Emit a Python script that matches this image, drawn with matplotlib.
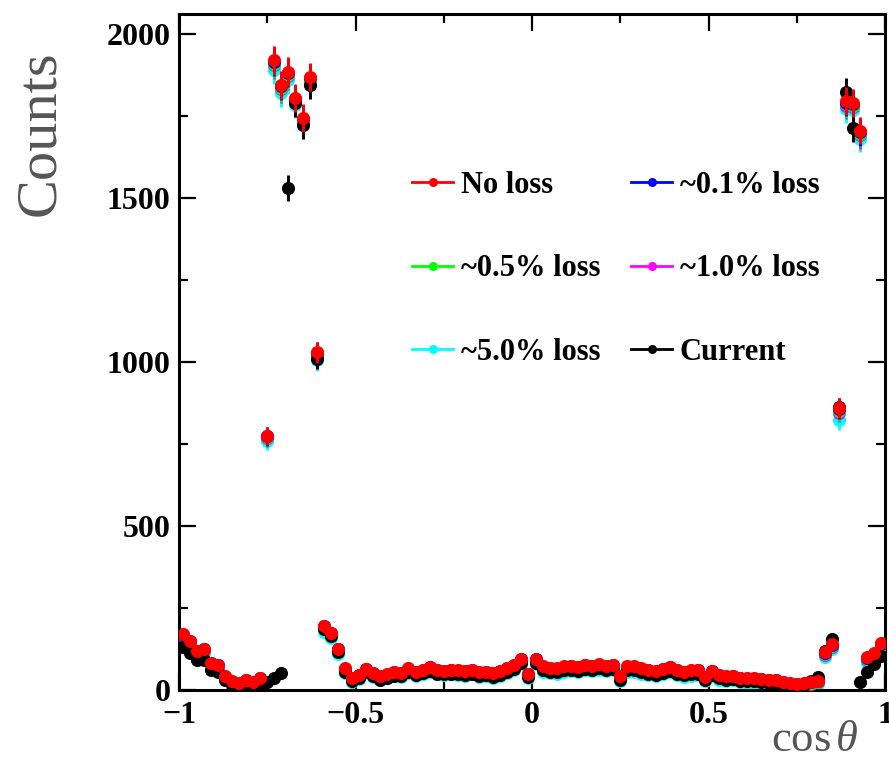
import numpy as np
import matplotlib
matplotlib.use("Agg")
import matplotlib.pyplot as plt
from matplotlib.lines import Line2D
from matplotlib.ticker import MultipleLocator, FixedLocator

plt.rcParams['font.family'] = ['Liberation Serif', 'DejaVu Serif']
plt.rcParams['mathtext.fontset'] = 'custom'
plt.rcParams['mathtext.rm'] = 'Liberation Serif'
plt.rcParams['mathtext.it'] = 'Liberation Serif:italic'

# bin centres of cos(theta), 100 bins in [-1, 1]
bin_edges = np.linspace(-1, 1, 101)
centers = 0.5 * (bin_edges[:-1] + bin_edges[1:])

no_loss = [
    170, 150, 118, 125, 82, 76, 42, 26, 22, 30,
    25, 38, 775, 1920, 1845, 1885, 1805, 1744, 1869, 1030,
    195, 175, 125, 66, 37, 47, 65, 52, 42, 48,
    55, 52, 66, 55, 62, 70, 62, 58, 62, 60,
    58, 62, 54, 56, 52, 58, 68, 76, 95, 50,
    95, 72, 68, 66, 72, 74, 70, 76, 74, 78,
    74, 76, 42, 72, 72, 66, 62, 58, 64, 70,
    62, 56, 60, 62, 40, 58, 46, 42, 44, 38,
    36, 36, 34, 32, 30, 24, 20, 18, 20, 24,
    28, 115, 140, 860, 1795, 1790, 1705, 100, 112, 142,
]
loss_01 = [
    169, 149, 117, 124, 81, 75, 41, 25, 21, 29,
    24, 37, 773, 1916, 1841, 1881, 1801, 1741, 1865, 1028,
    194, 174, 124, 65, 36, 46, 64, 51, 41, 47,
    54, 51, 65, 54, 61, 69, 61, 57, 61, 59,
    57, 61, 53, 55, 51, 57, 67, 75, 94, 49,
    94, 71, 67, 65, 71, 73, 69, 75, 73, 77,
    73, 75, 41, 71, 71, 65, 61, 57, 63, 69,
    61, 55, 59, 61, 39, 57, 45, 41, 43, 37,
    35, 35, 33, 31, 29, 23, 19, 17, 19, 23,
    27, 113, 138, 857, 1791, 1786, 1701, 98, 110, 140,
]
loss_05 = [
    167, 147, 115, 122, 79, 73, 39, 23, 19, 27,
    22, 35, 770, 1910, 1836, 1876, 1797, 1737, 1860, 1024,
    192, 172, 122, 63, 34, 44, 62, 49, 39, 45,
    52, 49, 63, 52, 59, 67, 59, 55, 59, 57,
    55, 59, 51, 53, 49, 55, 65, 73, 92, 47,
    92, 69, 65, 63, 69, 71, 67, 73, 71, 75,
    71, 73, 39, 69, 69, 63, 59, 55, 61, 67,
    59, 53, 57, 59, 37, 55, 43, 39, 41, 35,
    33, 33, 31, 29, 27, 21, 17, 15, 17, 21,
    25, 110, 135, 850, 1786, 1781, 1696, 95, 106, 136,
]
loss_10 = [
    164, 145, 113, 120, 77, 71, 37, 21, 17, 25,
    20, 33, 768, 1905, 1832, 1872, 1794, 1734, 1856, 1020,
    189, 169, 120, 61, 32, 42, 60, 47, 37, 43,
    50, 47, 61, 50, 57, 65, 57, 53, 57, 55,
    53, 57, 49, 51, 47, 53, 63, 71, 90, 45,
    90, 67, 63, 61, 67, 69, 65, 71, 69, 73,
    69, 71, 37, 67, 67, 61, 57, 53, 59, 65,
    57, 51, 55, 57, 35, 53, 41, 37, 39, 33,
    31, 31, 29, 27, 25, 19, 15, 13, 15, 19,
    23, 107, 132, 845, 1782, 1778, 1692, 92, 102, 132,
]
loss_50 = [
    155, 138, 105, 112, 70, 64, 32, 16, 12, 18,
    14, 28, 760, 1890, 1820, 1860, 1785, 1722, 1845, 1005,
    178, 158, 110, 52, 25, 35, 52, 40, 30, 36,
    42, 40, 52, 42, 50, 56, 48, 45, 48, 46,
    44, 48, 40, 42, 38, 44, 52, 60, 78, 36,
    78, 56, 52, 50, 56, 58, 54, 60, 58, 62,
    58, 60, 28, 55, 56, 50, 46, 42, 48, 54,
    46, 40, 44, 46, 26, 42, 32, 28, 30, 24,
    22, 22, 20, 18, 16, 10, 8, 6, 8, 14,
    18, 100, 125, 822, 1772, 1768, 1680, 82, 90, 120,
]
current = [
    130, 112, 92, 90, 62, 56, 30, 16, 10, 8,
    10, 14, 24, 38, 52, 1530, 1790, 1722, 1845, 1010,
    185, 165, 115, 56, 28, 36, 55, 42, 32, 38,
    44, 42, 55, 45, 52, 58, 50, 48, 50, 48,
    46, 50, 42, 45, 40, 46, 55, 64, 82, 40,
    82, 60, 56, 55, 60, 62, 58, 64, 62, 66,
    62, 64, 32, 60, 60, 55, 50, 46, 52, 58,
    50, 45, 48, 50, 30, 46, 36, 32, 34, 28,
    26, 26, 24, 22, 20, 15, 12, 10, 14, 28,
    40, 120, 155, 862, 1822, 1712, 25, 55, 80, 105,
]

labels = ["No loss", "~0.1% loss", "~0.5% loss", "~1.0% loss", "~5.0% loss", "Current"]
colors = ["#ff0000", "#0000ff", "#00ff00", "#ff00ff", "#00ffff", "#000000"]
series = [no_loss, loss_01, loss_05, loss_10, loss_50, current]

W, H = 889, 783
fig = plt.figure(figsize=(W / 100, H / 100), dpi=100)
ax = fig.add_axes([179 / W, 1 - 690 / H, (885 - 179) / W, (690 - 14) / H])

draw_order = [4, 3, 2, 1, 5, 0]
for i in draw_order:
    y = np.array(series[i], dtype=float)
    ax.errorbar(centers, y, yerr=np.sqrt(y), fmt='o', color=colors[i],
                markersize=8.6, markeredgewidth=0.8, markeredgecolor=colors[i],
                elinewidth=2.1, capsize=0,
                zorder=2 + draw_order.index(i))

ax.set_xlim(-1, 1)
ax.set_ylim(0, 2061)

ax.xaxis.set_major_locator(FixedLocator([-1, -0.5, 0, 0.5, 1]))
ax.xaxis.set_minor_locator(MultipleLocator(0.25))
ax.yaxis.set_major_locator(MultipleLocator(500))
ax.yaxis.set_minor_locator(MultipleLocator(250))
ax.set_xticklabels(["\u22121", "\u22120.5", "0", "0.5", "1"])

ax.tick_params(which='both', direction='in', top=True, right=True, width=1.6,
               labelsize=23, colors='black')
ax.tick_params(which='major', length=12)
ax.tick_params(which='minor', length=6.5)
ax.tick_params(axis='x', pad=8)
ax.tick_params(axis='y', pad=6)
for lab in ax.get_xticklabels() + ax.get_yticklabels():
    lab.set_fontweight('bold')
for sp in ax.spines.values():
    sp.set_linewidth(2.2)

fig.text(40 / W, 1 - 50 / H, "Counts", rotation=90, ha='center', va='top',
         fontsize=42, color='#555555')
fig.text(858 / W, 1 - 740 / H, r"$\mathrm{cos}\,\theta$", ha='right', va='center',
         fontsize=32, color='#555555')

# legend filled row by row as in the reference (matplotlib fills columns)
order = [0, 2, 4, 1, 3, 5]
handles = [Line2D([0], [0], color=colors[k], lw=2.0, marker='o', markersize=6.5,
                  markeredgewidth=0) for k in order]
leg = ax.legend(handles, [labels[k] for k in order], ncol=2, loc='upper left',
                bbox_to_anchor=(412 / W, 1 - 171 / H), bbox_transform=fig.transFigure,
                frameon=False, borderpad=0, borderaxespad=0, handlelength=1.35,
                handletextpad=0.25, columnspacing=1.0, labelspacing=1.78,
                prop={'family': 'Liberation Serif', 'weight': 'bold', 'size': 22})

fig.savefig("out.png", dpi=100)
